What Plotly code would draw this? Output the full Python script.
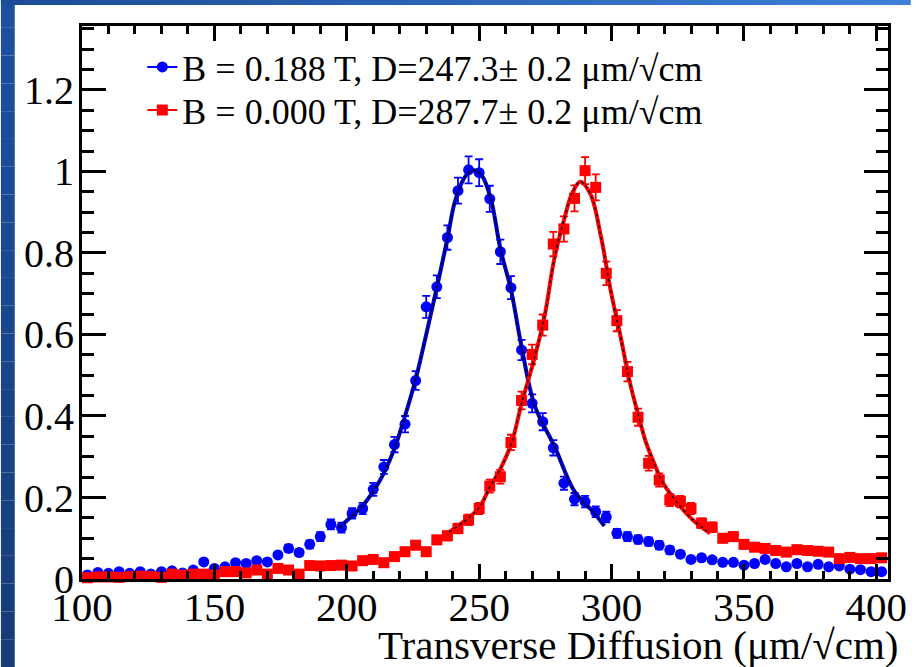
import plotly.graph_objects as go

# ---------------- data ----------------
bin_centers = list(range(102, 404, 4))  # 76 histogram bins, width 4 um/sqrt(cm)

blue_vals = [0.010, 0.016, 0.014, 0.018, 0.014, 0.018, 0.012, 0.018, 0.020, 0.015,
             0.022, 0.042, 0.026, 0.030, 0.040, 0.038, 0.045, 0.042, 0.059, 0.075,
             0.065, 0.085, 0.104, 0.134, 0.126, 0.161, 0.173, 0.220, 0.275, 0.330,
             0.380, 0.487, 0.668, 0.717, 0.838, 0.953, 1.004, 0.997, 0.933, 0.803,
             0.715, 0.562, 0.431, 0.386, 0.322, 0.235, 0.196, 0.190, 0.165, 0.152,
             0.112, 0.104, 0.097, 0.092, 0.083, 0.071, 0.061, 0.048, 0.052, 0.047,
             0.041, 0.041, 0.034, 0.038, 0.048, 0.038, 0.030, 0.038, 0.030, 0.036,
             0.030, 0.032, 0.024, 0.023, 0.018, 0.018]
blue_err = [0.003, 0.004, 0.004, 0.004, 0.004, 0.004, 0.004, 0.004, 0.005, 0.004,
            0.005, 0.007, 0.005, 0.006, 0.007, 0.006, 0.007, 0.007, 0.008, 0.009,
            0.008, 0.010, 0.011, 0.012, 0.012, 0.013, 0.014, 0.016, 0.017, 0.019,
            0.020, 0.023, 0.027, 0.028, 0.030, 0.032, 0.033, 0.033, 0.032, 0.030,
            0.028, 0.025, 0.022, 0.021, 0.019, 0.016, 0.015, 0.014, 0.013, 0.013,
            0.011, 0.011, 0.010, 0.010, 0.010, 0.009, 0.008, 0.007, 0.008, 0.007,
            0.007, 0.007, 0.006, 0.006, 0.007, 0.006, 0.006, 0.006, 0.006, 0.006,
            0.006, 0.006, 0.005, 0.005, 0.004, 0.004]

red_vals = [0.003, 0.005, 0.005, 0.004, 0.006, 0.007, 0.006, 0.004, 0.012, 0.009,
            0.012, 0.012, 0.010, 0.018, 0.018, 0.015, 0.022, 0.012, 0.026, 0.022,
            0.012, 0.033, 0.032, 0.033, 0.034, 0.032, 0.045, 0.048, 0.040, 0.055,
            0.067, 0.083, 0.067, 0.096, 0.106, 0.124, 0.145, 0.173, 0.228, 0.251,
            0.335, 0.438, 0.551, 0.623, 0.822, 0.859, 0.934, 1.002, 0.961, 0.750,
            0.634, 0.509, 0.397, 0.284, 0.243, 0.194, 0.190, 0.173, 0.137, 0.127,
            0.100, 0.104, 0.085, 0.078, 0.075, 0.070, 0.066, 0.072, 0.070, 0.068,
            0.066, 0.050, 0.053, 0.050, 0.050, 0.052]
red_err = [0.002, 0.002, 0.002, 0.002, 0.003, 0.003, 0.003, 0.002, 0.004, 0.003,
           0.004, 0.004, 0.003, 0.004, 0.004, 0.004, 0.005, 0.004, 0.005, 0.005,
           0.004, 0.006, 0.006, 0.006, 0.006, 0.006, 0.007, 0.007, 0.007, 0.008,
           0.009, 0.010, 0.009, 0.010, 0.011, 0.012, 0.013, 0.014, 0.016, 0.017,
           0.019, 0.022, 0.024, 0.026, 0.030, 0.031, 0.032, 0.033, 0.032, 0.029,
           0.026, 0.024, 0.021, 0.018, 0.016, 0.015, 0.014, 0.014, 0.012, 0.012,
           0.010, 0.011, 0.010, 0.009, 0.009, 0.009, 0.008, 0.009, 0.009, 0.009,
           0.008, 0.007, 0.008, 0.007, 0.007, 0.008]

# fitted curves
blue_fit_x = [197, 202, 206, 210, 214, 218, 222, 226, 230, 234, 238, 241, 245, 248,
              251, 254.5, 258, 262, 266, 271, 278.5, 286, 293, 297.3]
blue_fit_y = [0.125, 0.155, 0.180, 0.215, 0.260, 0.320, 0.400, 0.490, 0.600, 0.715,
              0.835, 0.930, 0.990, 1.003, 0.990, 0.930, 0.810, 0.710, 0.570, 0.425,
              0.325, 0.215, 0.165, 0.130]
red_fit_x = [238.6, 245, 250, 254, 258, 262.3, 266, 271, 274.7, 278.5, 282.2, 285,
             288.2, 292, 296, 299.6, 303.4, 307, 310, 313, 316, 319.5, 325.7, 330.7, 337.2]
red_fit_y = [0.115, 0.145, 0.175, 0.225, 0.270, 0.335, 0.430, 0.545, 0.645, 0.790,
             0.885, 0.945, 0.975, 0.945, 0.840, 0.710, 0.595, 0.480, 0.405, 0.335,
             0.285, 0.235, 0.180, 0.145, 0.112]

legend_labels = ["B = 0.188 T, D=247.3\u00b1 0.2 \u03bcm/\u221acm",
                 "B = 0.000 T, D=287.7\u00b1 0.2 \u03bcm/\u221acm"]
x_title = "Transverse Diffusion (\u03bcm/\u221acm)"
x_ticks = [100, 150, 200, 250, 300, 350, 400]
y_ticks = [0, 0.2, 0.4, 0.6, 0.8, 1.0, 1.2]
y_ticktext = ["0", "0.2", "0.4", "0.6", "0.8", "1", "1.2"]

# ---------------- figure ----------------
W, H = 919, 667
ML, MR, MT, MB = 82, 22, 26, 88
PW, PH = W - ML - MR, H - MT - MB
FONT = "Liberation Serif, Times New Roman, serif"
BLUE, RED = "#0000ff", "#ff0000"

fig = go.Figure()

def data_trace(y, err, color, symbol):
    return go.Scatter(
        x=bin_centers, y=y, mode="markers", showlegend=False, cliponaxis=False,
        marker=dict(color=color, symbol=symbol, size=11, line=dict(width=0)),
        error_y=dict(type="data", array=err, color=color, thickness=1.8, width=4),
    )

def fit_traces(x, y, color):
    return [
        go.Scatter(x=x, y=y, mode="lines", showlegend=False,
                   line=dict(color=color, width=4, shape="spline")),
        go.Scatter(x=x, y=y, mode="lines", showlegend=False,
                   line=dict(color="black", width=1.3, dash="dot", shape="spline")),
    ]

fig.add_trace(data_trace(blue_vals, blue_err, BLUE, "circle"))
for t in fit_traces(blue_fit_x, blue_fit_y, "#0000cc"):
    fig.add_trace(t)
fig.add_trace(data_trace(red_vals, red_err, RED, "square"))
for t in fit_traces(red_fit_x, red_fit_y, RED):
    fig.add_trace(t)

# legend-only entries (one legend box each, so they can be placed exactly)
fig.add_trace(go.Scatter(x=[None], y=[None], mode="lines+markers", name=legend_labels[0],
                         line=dict(color=BLUE, width=2), marker=dict(color=BLUE, symbol="circle", size=11),
                         legend="legend"))
fig.add_trace(go.Scatter(x=[None], y=[None], mode="lines+markers", name=legend_labels[1],
                         line=dict(color=RED, width=2), marker=dict(color=RED, symbol="square", size=11),
                         legend="legend2"))

def px2x(px):
    return (px - ML) / PW

def py2y(py):
    return (H - MB - py) / PH

shapes = []
# slide-style blue left strip
n = 24
for i in range(n):
    t = i / (n - 1)
    c = (int(30 - 8 * t), int(80 - 20 * t), int(160 - 38 * t))
    shapes.append(dict(type="rect", xref="paper", yref="paper", layer="below",
                       x0=px2x(0), x1=px2x(14), y0=py2y(H * (i + 1) / n), y1=py2y(H * i / n),
                       fillcolor="rgb(%d,%d,%d)" % c, line=dict(width=0)))
# top strip gradient
n = 40
for i in range(n):
    t = i / (n - 1)
    c = (int(28 + 34 * t), int(76 + 52 * t), int(150 + 66 * t))
    shapes.append(dict(type="rect", xref="paper", yref="paper", layer="below",
                       x0=px2x(W * i / n), x1=px2x(W * (i + 1) / n + 1), y0=py2y(5), y1=py2y(0),
                       fillcolor="rgb(%d,%d,%d)" % c, line=dict(width=0)))

legend_common = dict(xanchor="left", yanchor="middle", bgcolor="rgba(0,0,0,0)", borderwidth=0,
                     font=dict(family=FONT, size=36, color="black"), itemwidth=30)

fig.update_layout(
    width=W, height=H,
    margin=dict(l=ML, r=MR, t=MT, b=MB, pad=0),
    paper_bgcolor="white", plot_bgcolor="white",
    font=dict(family=FONT, color="black", size=40),
    shapes=shapes,
    legend=dict(x=px2x(143), y=py2y(67), **legend_common),
    legend2=dict(x=px2x(143), y=py2y(110), **legend_common),
    xaxis=dict(range=[100, 404.4], tickvals=x_ticks, ticks="inside", ticklen=15, tickwidth=3,
               tickcolor="black", showline=True, linewidth=3, linecolor="black", mirror="ticks",
               showgrid=False, zeroline=False, tickfont=dict(size=41, family=FONT),
               ticklabelstandoff=-10,
               minor=dict(dtick=10, ticks="inside", ticklen=8, tickwidth=3, tickcolor="black",
                          showgrid=False)),
    yaxis=dict(range=[0, 1.357], tickvals=y_ticks, ticktext=y_ticktext,
               ticks="inside", ticklen=24, tickwidth=3,
               tickcolor="black", showline=True, linewidth=3, linecolor="black", mirror="ticks",
               showgrid=False, zeroline=False, tickfont=dict(size=40, family=FONT),
               ticklabelstandoff=-3,
               minor=dict(dtick=0.05, ticks="inside", ticklen=12, tickwidth=3, tickcolor="black",
                          showgrid=False)),
    annotations=[dict(text=x_title, xref="paper", yref="paper", x=px2x(910), y=py2y(645),
                      xanchor="right", yanchor="middle", showarrow=False,
                      font=dict(family=FONT, size=41, color="black"))],
)

fig.write_html("out.html")
